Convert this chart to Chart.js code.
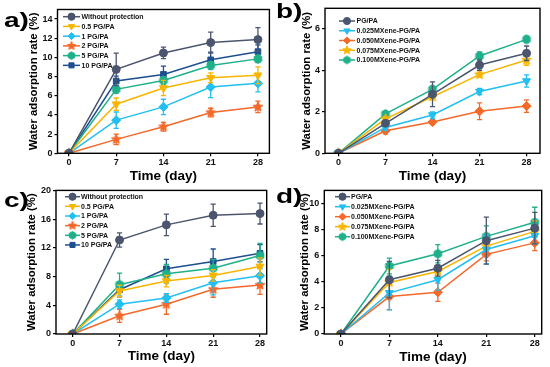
<!DOCTYPE html>
<html>
<head>
<meta charset="utf-8">
<script src="https://cdn.jsdelivr.net/npm/chart.js@4.4.1/dist/chart.umd.min.js"></script>
<style>
  html, body { margin: 0; padding: 0; background: #ffffff; }
  #wrap { position: relative; width: 550px; height: 367px; overflow: hidden; background: #fff; }
  canvas { position: absolute; }
  .plabel { position: absolute; font-family: 'Liberation Sans', Arial, sans-serif; font-weight: bold;
            font-size: 28px; line-height: 1; color: #000; transform: scaleY(0.75); transform-origin: top left; }
</style>
</head>
<body>
<div id="wrap">
  <canvas id="ca" width="275" height="183" style="left:0px;top:0px"></canvas>
  <canvas id="cb" width="275" height="183" style="left:275px;top:0px"></canvas>
  <canvas id="cc" width="275" height="184" style="left:0px;top:183px"></canvas>
  <canvas id="cd" width="275" height="184" style="left:275px;top:183px"></canvas>
  <div class="plabel" style="left:4px;top:10px">a)</div>
  <div class="plabel" style="left:276px;top:1px">b)</div>
  <div class="plabel" style="left:4px;top:190px">c)</div>
  <div class="plabel" style="left:276px;top:186px">d)</div>
</div>
<script>
// ---------------- DATA ----------------
const days = [0, 7, 14, 21, 28];
const xTickValues = [0, 7, 14, 21, 28];

// Panel a
const aLabels = ['Without protection', '0.5 PG/PA', '1 PG/PA', '2 PG/PA', '5 PG/PA', '10 PG/PA'];
const aYTicks = [0, 2, 4, 6, 8, 10, 12, 14];
const aWithout = [0, 8.75, 10.47, 11.55, 11.86];
const aWithoutErr = [0, 1.7, 0.6, 1.1, 1.25];
const aPG05 = [0, 5.12, 6.81, 7.88, 8.14];
const aPG05Err = [0, 0.65, 0.8, 0.5, 0.88];
const aPG1 = [0, 3.46, 4.84, 6.91, 7.3];
const aPG1Err = [0, 0.85, 0.8, 1.1, 0.9];
const aPG2 = [0, 1.45, 2.77, 4.25, 4.84];
const aPG2Err = [0, 0.55, 0.45, 0.45, 0.6];
const aPG5 = [0, 6.67, 7.6, 9.16, 9.85];
const aPG5Err = [0, 0.4, 0.4, 0.4, 0.4];
const aPG10 = [0, 7.54, 8.23, 9.75, 10.6];
const aPG10Err = [0, 0.5, 0.86, 0.8, 0.7];

// Panel b
const bLabels = ['PG/PA', '0.025MXene-PG/PA', '0.050MXene-PG/PA', '0.075MXene-PG/PA', '0.100MXene-PG/PA'];
const bYTicks = [0, 2, 4, 6];
const bPGPA = [0, 1.45, 2.85, 4.26, 4.83];
const bPGPAErr = [0, 0.1, 0.6, 0.25, 0.35];
const bM025 = [0, 1.25, 1.85, 2.98, 3.49];
const bM025Err = [0, 0.1, 0.15, 0.15, 0.3];
const bM050 = [0, 1.09, 1.51, 2.03, 2.28];
const bM050Err = [0, 0.15, 0.12, 0.4, 0.3];
const bM075 = [0, 1.66, 2.73, 3.8, 4.5];
const bM075Err = [0, 0.1, 0.1, 0.12, 0.25];
const bM100 = [0, 1.9, 3.09, 4.7, 5.5];
const bM100Err = [0, 0.1, 0.15, 0.2, 0.15];

// Panel c
const cLabels = ['Without protection', '0.5 PG/PA', '1 PG/PA', '2 PG/PA', '5 PG/PA', '10 PG/PA'];
const cYTicks = [0, 4, 8, 12, 16, 20];
const cWithout = [0, 13.09, 15.2, 16.54, 16.77];
const cWithoutErr = [0, 1.0, 1.5, 1.55, 1.45];
const cPG05 = [0, 5.99, 7.37, 8.16, 9.4];
const cPG05Err = [0, 0.8, 0.8, 0.8, 1.2];
const cPG1 = [0, 4.15, 5.02, 7.14, 8.11];
const cPG1Err = [0, 0.6, 0.6, 1.7, 1.0];
const cPG2 = [0, 2.53, 4.15, 6.22, 6.82];
const cPG2Err = [0, 0.9, 1.4, 1.1, 1.3];
const cPG5 = [0, 6.87, 8.39, 9.17, 10.92];
const cPG5Err = [0, 1.6, 1.3, 1.2, 1.7];
const cPG10 = [0, 6.17, 9.08, 10.09, 11.24];
const cPG10Err = [0, 1.0, 1.3, 1.75, 1.2];

// Panel d
const dLabels = ['PG/PA', '0.025MXene-PG/PA', '0.050MXene-PG/PA', '0.075MXene-PG/PA', '0.100MXene-PG/PA'];
const dYTicks = [0, 2, 4, 6, 8, 10];
const dPGPA = [0, 4.16, 5.04, 7.15, 8.11];
const dPGPAErr = [0, 1.4, 0.6, 1.8, 1.2];
const dM025 = [0, 3.15, 4.16, 6.47, 7.53];
const dM025Err = [0, 1.3, 0.8, 1.1, 0.6];
const dM050 = [0, 2.87, 3.2, 6.1, 6.98];
const dM050Err = [0, 1.0, 0.7, 0.5, 0.6];
const dM075 = [0, 3.95, 4.79, 6.73, 7.86];
const dM075Err = [0, 1.0, 0.4, 0.5, 0.8];
const dM100 = [0, 5.21, 6.15, 7.48, 8.56];
const dM100Err = [0, 0.6, 0.7, 0.8, 1.15];

// ---------------- STYLE ----------------
const FONT = "'Liberation Sans', Arial, sans-serif";
Chart.defaults.font.family = FONT;
Chart.defaults.color = '#111';

const C_DARK = '#4b566e';
const C_YEL = '#f7b500';
const C_LBLUE = '#22bff0';
const C_ORANGE = '#f4692a';
const C_TEAL = '#1fb08a';
const C_NAVY = '#1d4f91';

function shapeCanvas(kind, color, r) {
  const s = Math.ceil(2 * r + 3);
  const cv = document.createElement('canvas');
  cv.width = s; cv.height = s;
  const g = cv.getContext('2d');
  const c = s / 2;
  g.fillStyle = color; g.strokeStyle = color; g.lineWidth = 1;
  g.beginPath();
  if (kind === 'star') {
    for (let k = 0; k < 10; k++) {
      const rr = k % 2 === 0 ? r : r * 0.45;
      const a = -Math.PI / 2 + k * Math.PI / 5;
      const px = c + rr * Math.cos(a), py = c + rr * Math.sin(a);
      if (k === 0) g.moveTo(px, py); else g.lineTo(px, py);
    }
  } else { // hexagon
    for (let k = 0; k < 6; k++) {
      const a = -Math.PI / 2 + k * Math.PI / 3;
      const px = c + r * Math.cos(a), py = c + r * Math.sin(a);
      if (k === 0) g.moveTo(px, py); else g.lineTo(px, py);
    }
  }
  g.closePath(); g.fill(); g.stroke();
  return cv;
}

function makeDs(label, values, errs, color, style) {
  let pointStyle = style, rotation = 0, legendStyle = style;
  if (style === 'tridown') { pointStyle = 'triangle'; legendStyle = 'triangle'; rotation = 180; }
  if (style === 'star') { pointStyle = shapeCanvas('star', color, 5.2); legendStyle = shapeCanvas('star', color, 4.4); }
  if (style === 'hex') { pointStyle = shapeCanvas('hex', color, 4.4); legendStyle = shapeCanvas('hex', color, 3.8); }
  return {
    label: label,
    data: days.map((d, i) => ({ x: d, y: values[i] })),
    errors: errs,
    borderColor: color,
    backgroundColor: color,
    pointBackgroundColor: color,
    pointBorderColor: color,
    borderWidth: 1.5,
    pointRadius: style === 'rectRot' ? 4.6 : (style === 'tridown' ? 4.6 : 4),
    pointBorderWidth: 1,
    pointStyle: pointStyle,
    pointRotation: rotation,
    legendStyle: legendStyle,
    tension: 0,
    fill: false
  };
}

// Error bars drawn through the y scale
const errorBarPlugin = {
  id: 'errorBars',
  beforeDatasetDraw(chart, args) {
    const ds = chart.data.datasets[args.index];
    if (!ds.errors) return;
    const ys = chart.scales.y;
    const ctx = chart.ctx;
    ctx.save();
    ctx.strokeStyle = ds.borderColor;
    ctx.lineWidth = 1.3;
    args.meta.data.forEach((pt, j) => {
      const e = ds.errors[j];
      if (!e) return;
      const v = ds.data[j].y;
      const t = ys.getPixelForValue(v + e), b = ys.getPixelForValue(v - e);
      const x = pt.x, w = 2.6;
      ctx.beginPath();
      ctx.moveTo(x, t); ctx.lineTo(x, b);
      ctx.moveTo(x - w, t); ctx.lineTo(x + w, t);
      ctx.moveTo(x - w, b); ctx.lineTo(x + w, b);
      ctx.stroke();
    });
    ctx.restore();
  }
};

// Frame round plot area
const framePlugin = {
  id: 'frame',
  afterDraw(chart) {
    const { left, right, top, bottom } = chart.chartArea;
    const ctx = chart.ctx;
    ctx.save();
    ctx.strokeStyle = '#000';
    ctx.lineWidth = 1.4;
    ctx.strokeRect(left, top, right - left, bottom - top);
    ctx.restore();
  }
};

// Legend inside the plot
const insideLegendPlugin = {
  id: 'insideLegend',
  afterDraw(chart, args, opts) {
    const ctx = chart.ctx;
    ctx.save();
    chart.data.datasets.forEach((ds, i) => {
      const y = opts.y0 + i * opts.dy;
      ctx.strokeStyle = ds.borderColor;
      ctx.lineWidth = 1.5;
      ctx.beginPath(); ctx.moveTo(opts.x0, y); ctx.lineTo(opts.x1, y); ctx.stroke();
      ctx.fillStyle = ds.backgroundColor;
      ctx.lineWidth = 1;
      Chart.helpers.drawPoint(ctx, { pointStyle: ds.legendStyle, radius: 3.6, rotation: ds.pointRotation || 0, borderWidth: 1 },
        (opts.x0 + opts.x1) / 2, y);
      ctx.fillStyle = '#111';
      ctx.font = 'bold 7px ' + FONT;
      ctx.textBaseline = 'middle';
      ctx.textAlign = 'left';
      ctx.fillText(ds.label, opts.tx, y + 0.5);
    });
    ctx.restore();
  }
};

// y title font: narrow bold if available, sized to the reference length
const YT = 'Water adsorption rate (%)';
const YT_LEN = 138;
const mc = document.createElement('canvas').getContext('2d');
mc.font = "bold 20px 'Liberation Sans Narrow', monospace";
const w1 = mc.measureText(YT).width;
mc.font = "bold 20px 'Liberation Sans Narrow', serif";
const w2 = mc.measureText(YT).width;
const narrowOK = Math.abs(w1 - w2) < 0.5;
const yFam = narrowOK ? "'Liberation Sans Narrow'" : FONT;
mc.font = "bold 20px " + yFam;
const yTitleSize = 20 * YT_LEN / mc.measureText(YT).width;
const yTitleFont = { family: yFam, size: yTitleSize, weight: 'bold', lineHeight: 1 };

function makeChart(id, datasets, o) {
  new Chart(document.getElementById(id), {
    type: 'line',
    data: { datasets: datasets },
    plugins: [errorBarPlugin, framePlugin, insideLegendPlugin],
    options: {
      responsive: false,
      animation: false,
      devicePixelRatio: 1,
      layout: { padding: { left: 0, right: o.padR, top: o.padT, bottom: 0 } },
      plugins: {
        legend: { display: false },
        tooltip: { enabled: false },
        insideLegend: o.legend
      },
      scales: {
        x: {
          type: 'linear',
          min: o.xMin, max: o.xMax,
          afterBuildTicks: (s) => { s.ticks = xTickValues.map(v => ({ value: v })); },
          afterFit: (s) => { s.height = o.xH; },
          ticks: { font: { size: 9, weight: 'bold' }, padding: 1, color: '#111', maxRotation: 0, autoSkip: false },
          grid: { display: true, drawOnChartArea: false, drawTicks: true, tickLength: 3, color: '#000', lineWidth: 1.2 },
          border: { display: false },
          title: { display: true, text: 'Time (day)', font: { size: 13.5, weight: 'bold', lineHeight: 1 }, color: '#000',
                   padding: { top: 0, bottom: o.xTitlePad } }
        },
        y: {
          type: 'linear',
          min: 0, max: o.yMax,
          afterBuildTicks: (s) => { s.ticks = o.yTicks.map(v => ({ value: v })); },
          afterFit: (s) => { s.width = o.yW; },
          ticks: { font: { size: 9, weight: 'bold' }, padding: 2, color: '#111', autoSkip: false },
          grid: { display: true, drawOnChartArea: false, drawTicks: true, tickLength: 3, color: '#000', lineWidth: 1.2 },
          border: { display: false },
          title: { display: true, text: YT, font: yTitleFont, color: '#000',
                   padding: { top: o.yTitlePad - yTitleSize / 2, bottom: 0 } }
        }
      }
    }
  });
}

// Panel a
makeChart('ca', [
  makeDs(aLabels[0], aWithout, aWithoutErr, C_DARK, 'circle'),
  makeDs(aLabels[1], aPG05, aPG05Err, C_YEL, 'tridown'),
  makeDs(aLabels[2], aPG1, aPG1Err, C_LBLUE, 'rectRot'),
  makeDs(aLabels[3], aPG2, aPG2Err, C_ORANGE, 'star'),
  makeDs(aLabels[4], aPG5, aPG5Err, C_TEAL, 'hex'),
  makeDs(aLabels[5], aPG10, aPG10Err, C_NAVY, 'rect')
], { padR: 3.5, padT: 9.5, xH: 29.7, yW: 57.5, xMin: -1.7, xMax: 29.7, yMax: 15, yTicks: aYTicks,
     xTitlePad: 0, yTitlePad: 33.5,
     legend: { x0: 63, x1: 80, tx: 81.5, y0: 16.7, dy: 9.73 } });

// Panel b
makeChart('cb', [
  makeDs(bLabels[0], bPGPA, bPGPAErr, C_DARK, 'circle'),
  makeDs(bLabels[1], bM025, bM025Err, C_LBLUE, 'tridown'),
  makeDs(bLabels[2], bM050, bM050Err, C_ORANGE, 'rectRot'),
  makeDs(bLabels[3], bM075, bM075Err, C_YEL, 'star'),
  makeDs(bLabels[4], bM100, bM100Err, C_TEAL, 'hex')
], { padR: 10, padT: 8.3, xH: 29.7, yW: 50, xMin: -2, xMax: 30, yMax: 7, yTicks: bYTicks,
     xTitlePad: 0, yTitlePad: 31.5,
     legend: { x0: 64, x1: 80, tx: 81.5, y0: 21, dy: 9.75 } });

// Panel c
makeChart('cc', [
  makeDs(cLabels[0], cWithout, cWithoutErr, C_DARK, 'circle'),
  makeDs(cLabels[1], cPG05, cPG05Err, C_YEL, 'tridown'),
  makeDs(cLabels[2], cPG1, cPG1Err, C_LBLUE, 'rectRot'),
  makeDs(cLabels[3], cPG2, cPG2Err, C_ORANGE, 'star'),
  makeDs(cLabels[4], cPG5, cPG5Err, C_TEAL, 'hex'),
  makeDs(cLabels[5], cPG10, cPG10Err, C_NAVY, 'rect')
], { padR: 8.3, padT: 6.3, xH: 33, yW: 56, xMin: -2.5, xMax: 29, yMax: 20, yTicks: cYTicks,
     xTitlePad: 4, yTitlePad: 31.7,
     legend: { x0: 65, x1: 80, tx: 81, y0: 13.7, dy: 9.65 } });

// Panel d
makeChart('cd', [
  makeDs(dLabels[0], dPGPA, dPGPAErr, C_DARK, 'circle'),
  makeDs(dLabels[1], dM025, dM025Err, C_LBLUE, 'tridown'),
  makeDs(dLabels[2], dM050, dM050Err, C_ORANGE, 'rectRot'),
  makeDs(dLabels[3], dM075, dM075Err, C_YEL, 'star'),
  makeDs(dLabels[4], dM100, dM100Err, C_TEAL, 'hex')
], { padR: 8.3, padT: 6.3, xH: 33, yW: 49.3, xMin: -2.4, xMax: 29, yMax: 11, yTicks: dYTicks,
     xTitlePad: 2.75, yTitlePad: 29.7,
     legend: { x0: 60, x1: 75, tx: 76, y0: 13.7, dy: 10 } });
</script>
</body>
</html>
